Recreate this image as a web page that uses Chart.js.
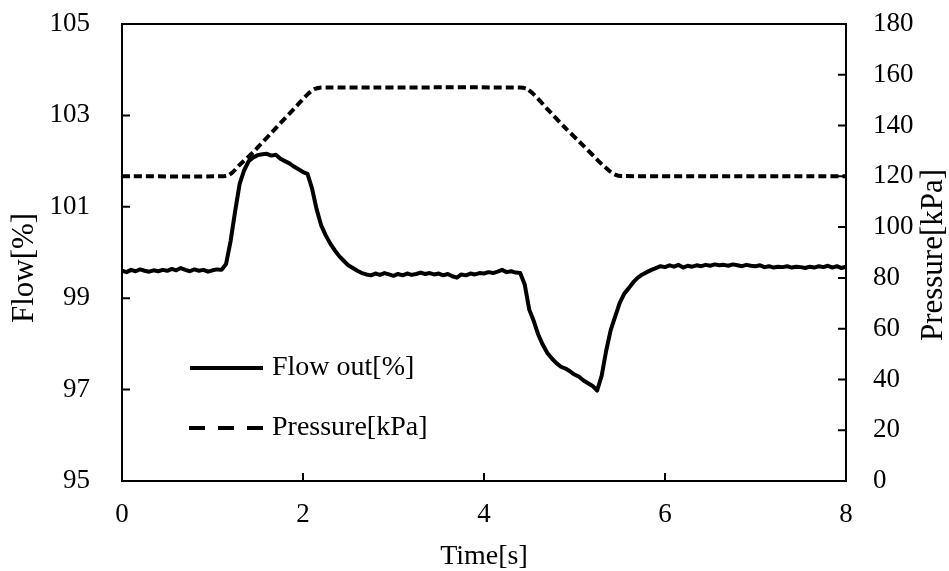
<!DOCTYPE html>
<html>
<head>
<meta charset="utf-8">
<title>Flow and pressure</title>
<script src="https://cdn.jsdelivr.net/npm/chart.js@4.4.1/dist/chart.umd.min.js"></script>
<style>
    body { margin: 0; background: #fff; }
    canvas { display: block; }
</style>
</head>
<body>
<canvas id="flowChart" width="949" height="571"></canvas>
<script>
// time axis of the flow trace (s)
const flowTime = [
    0.00, 0.05, 0.10, 0.15, 0.20, 0.25, 0.30, 0.35, 0.40, 0.45,
    0.50, 0.55, 0.60, 0.65, 0.70, 0.75, 0.80, 0.85, 0.90, 0.95,
    1.00, 1.05, 1.10, 1.15, 1.20, 1.25, 1.30, 1.35, 1.40, 1.45,
    1.50, 1.55, 1.60, 1.65, 1.70, 1.75, 1.80, 1.85, 1.90, 1.95,
    2.00, 2.05, 2.10, 2.15, 2.20, 2.25, 2.30, 2.35, 2.40, 2.45,
    2.50, 2.55, 2.60, 2.65, 2.70, 2.75, 2.80, 2.85, 2.90, 2.95,
    3.00, 3.05, 3.10, 3.15, 3.20, 3.25, 3.30, 3.35, 3.40, 3.45,
    3.50, 3.55, 3.60, 3.65, 3.70, 3.75, 3.80, 3.85, 3.90, 3.95,
    4.00, 4.05, 4.10, 4.15, 4.20, 4.25, 4.30, 4.35, 4.40, 4.45,
    4.50, 4.55, 4.60, 4.65, 4.70, 4.75, 4.80, 4.85, 4.90, 4.95,
    5.00, 5.05, 5.10, 5.15, 5.20, 5.25, 5.30, 5.35, 5.40, 5.45,
    5.50, 5.55, 5.60, 5.65, 5.70, 5.75, 5.80, 5.85, 5.90, 5.95,
    6.00, 6.05, 6.10, 6.15, 6.20, 6.25, 6.30, 6.35, 6.40, 6.45,
    6.50, 6.55, 6.60, 6.65, 6.70, 6.75, 6.80, 6.85, 6.90, 6.95,
    7.00, 7.05, 7.10, 7.15, 7.20, 7.25, 7.30, 7.35, 7.40, 7.45,
    7.50, 7.55, 7.60, 7.65, 7.70, 7.75, 7.80, 7.85, 7.90, 7.95,
    8.00
];

// Flow out [%]
const flowValues = [
    99.60, 99.57, 99.62, 99.59, 99.63, 99.60, 99.58, 99.61, 99.59, 99.62,
    99.60, 99.64, 99.61, 99.66, 99.62, 99.59, 99.63, 99.60, 99.62, 99.58,
    99.61, 99.63, 99.62, 99.75, 100.25, 100.90, 101.50, 101.80, 102.00, 102.08,
    102.13, 102.15, 102.16, 102.12, 102.14, 102.05, 102.00, 101.95, 101.88, 101.82,
    101.76, 101.72, 101.40, 100.95, 100.60, 100.38, 100.20, 100.05, 99.92, 99.82,
    99.72, 99.66, 99.60, 99.55, 99.52, 99.50, 99.54, 99.51, 99.55, 99.52,
    99.49, 99.53, 99.50, 99.54, 99.51, 99.53, 99.56, 99.53, 99.55, 99.52,
    99.54, 99.50, 99.53, 99.48, 99.45, 99.52, 99.50, 99.54, 99.52, 99.55,
    99.54, 99.57, 99.55, 99.58, 99.62, 99.57, 99.59, 99.56, 99.55, 99.30,
    98.75, 98.50, 98.20, 97.98, 97.80, 97.68, 97.58, 97.50, 97.46, 97.40,
    97.33, 97.28, 97.20, 97.14, 97.08, 96.98, 97.30, 97.85, 98.30, 98.60,
    98.90, 99.10, 99.22, 99.35, 99.45, 99.52, 99.57, 99.62, 99.66, 99.70,
    99.68, 99.72, 99.69, 99.73, 99.67, 99.71, 99.69, 99.72, 99.70, 99.73,
    99.71, 99.74, 99.72, 99.73, 99.71, 99.74, 99.72, 99.70, 99.73, 99.71,
    99.70, 99.72, 99.68, 99.70, 99.67, 99.69, 99.68, 99.70, 99.67, 99.69,
    99.68, 99.66, 99.69, 99.67, 99.70, 99.68, 99.71, 99.67, 99.70, 99.66,
    99.69
];

// Pressure [kPa]
const pressureTime = [0, 1.10, 1.17, 1.22, 1.30, 1.45, 1.70, 1.95, 2.05, 2.12, 2.20, 2.30,
    4.40, 4.47, 4.55, 4.70, 4.90, 5.10, 5.30, 5.38, 5.44, 5.52, 8.00];
const pressureValues = [120, 120, 120.3, 121.5, 124.5, 129.5, 139, 148.5, 152.3, 154.3, 155, 155,
    155, 154.5, 152.3, 146.5, 139, 132, 124.8, 122.3, 120.8, 120.1, 120];

const xTicks = { min: 0, max: 8, step: 2 };
const flowTicks = { min: 95, max: 105, step: 2 };
const pressureTicks = { min: 0, max: 180, step: 20 };

const seriesNames = ['Flow out[%]', 'Pressure[kPa]'];
const axisTitles = { x: 'Time[s]', y: 'Flow[%]', y1: 'Pressure[kPa]' };

const serif = 'Liberation Serif';
Chart.defaults.font.family = serif;
Chart.defaults.color = '#000';

// box, inward ticks, y titles and legend drawn on top
const framePlugin = {
    id: 'frame',
    beforeDraw(chart) {
        const ctx = chart.ctx;
        ctx.save();
        ctx.fillStyle = '#fff';
        ctx.fillRect(0, 0, chart.width, chart.height);
        ctx.restore();
    },
    afterDraw(chart) {
        const ctx = chart.ctx;
        const area = chart.chartArea;
        const { x, y, y1 } = chart.scales;
        const tickLen = 8;

        ctx.save();
        ctx.strokeStyle = '#000';
        ctx.lineWidth = 2;
        ctx.strokeRect(area.left, area.top, area.right - area.left, area.bottom - area.top);

        ctx.beginPath();
        x.ticks.forEach(t => {
            const px = x.getPixelForValue(t.value);
            ctx.moveTo(px, area.bottom);
            ctx.lineTo(px, area.bottom - tickLen);
        });
        y.ticks.forEach(t => {
            const py = y.getPixelForValue(t.value);
            ctx.moveTo(area.left, py);
            ctx.lineTo(area.left + tickLen, py);
        });
        y1.ticks.forEach(t => {
            const py = y1.getPixelForValue(t.value);
            ctx.moveTo(area.right, py);
            ctx.lineTo(area.right - tickLen, py);
        });
        ctx.stroke();

        // vertical titles, both reading bottom to top
        ctx.fillStyle = '#000';
        ctx.textAlign = 'center';
        ctx.textBaseline = 'middle';
        ctx.font = `31px "${serif}"`;
        ctx.save();
        ctx.translate(25, 268);
        ctx.rotate(-Math.PI / 2);
        ctx.fillText(axisTitles.y, 0, 0);
        ctx.restore();
        ctx.save();
        ctx.translate(934, 255);
        ctx.rotate(-Math.PI / 2);
        ctx.fillText(axisTitles.y1, 0, 0);
        ctx.restore();

        // legend inside the plot
        ctx.font = `28px "${serif}"`;
        ctx.textAlign = 'left';
        ctx.lineWidth = 4;
        ctx.beginPath();
        ctx.moveTo(190, 368);
        ctx.lineTo(263, 368);
        ctx.stroke();
        ctx.fillText(seriesNames[0], 272, 368);

        ctx.setLineDash([16, 13]);
        ctx.beginPath();
        ctx.moveTo(189, 428);
        ctx.lineTo(263, 428);
        ctx.stroke();
        ctx.setLineDash([]);
        ctx.fillText(seriesNames[1], 272, 428);
        ctx.restore();
    }
};

// fixed axis box sizes, no extra padding from label spacing
function fixVertical(width) {
    return scale => {
        scale.width = width;
        scale.paddingTop = 0;
        scale.paddingBottom = 0;
    };
}

const ctx = document.getElementById('flowChart').getContext('2d');
new Chart(ctx, {
    type: 'line',
    data: {
        datasets: [{
            label: seriesNames[0],
            data: flowTime.map((t, i) => ({ x: t, y: flowValues[i] })),
            yAxisID: 'y',
            borderColor: '#000',
            borderWidth: 4,
            pointRadius: 0,
            tension: 0,
            borderCapStyle: 'round',
            borderJoinStyle: 'round'
        }, {
            label: seriesNames[1],
            data: pressureTime.map((t, i) => ({ x: t, y: pressureValues[i] })),
            yAxisID: 'y1',
            borderColor: '#000',
            borderWidth: 4,
            borderDash: [8, 4],
            pointRadius: 0,
            tension: 0.2
        }]
    },
    options: {
        responsive: false,
        animation: false,
        layout: { padding: { top: 24, left: 0, right: 0, bottom: 0 } },
        plugins: {
            legend: { display: false },
            tooltip: { enabled: false }
        },
        scales: {
            x: {
                type: 'linear',
                min: xTicks.min,
                max: xTicks.max,
                ticks: { stepSize: xTicks.step, padding: 18, font: { size: 27 }, color: '#000' },
                grid: { display: false, drawTicks: false },
                border: { display: false },
                title: {
                    display: true,
                    text: axisTitles.x,
                    font: { size: 28, lineHeight: 1 },
                    padding: { top: 0, bottom: 0 },
                    color: '#000'
                },
                afterFit: scale => { scale.height = 90; }
            },
            y: {
                position: 'left',
                min: flowTicks.min,
                max: flowTicks.max,
                ticks: { stepSize: flowTicks.step, padding: 32, font: { size: 27 }, color: '#000' },
                grid: { display: false, drawTicks: false },
                border: { display: false },
                afterFit: fixVertical(122)
            },
            y1: {
                position: 'right',
                min: pressureTicks.min,
                max: pressureTicks.max,
                ticks: { stepSize: pressureTicks.step, padding: 27, font: { size: 27 }, color: '#000' },
                grid: { display: false, drawTicks: false },
                border: { display: false },
                afterFit: fixVertical(103)
            }
        }
    },
    plugins: [framePlugin]
});
</script>
</body>
</html>
